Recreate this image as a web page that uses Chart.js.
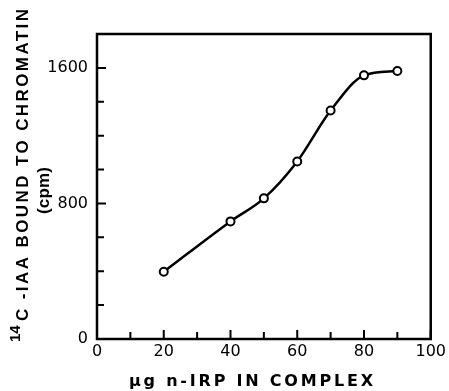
<!DOCTYPE html>
<html>
<head>
<meta charset="utf-8">
<script src="https://cdn.jsdelivr.net/npm/chart.js@4/dist/chart.umd.min.js"></script>
<style>
  html, body { margin: 0; padding: 0; background: #fff; }
  #wrap { width: 449px; height: 391px; }
</style>
</head>
<body>
<div id="wrap"><canvas id="LineChart" width="449" height="391"></canvas></div>
<script>
// values
const amounts = [20, 40, 50, 60, 70, 80, 90];          // µg n-IRP in complex
const bound = [397, 694, 830, 1048, 1348, 1556, 1582]; // cpm bound to chromatin
const xTickLabels = [0, 20, 40, 60, 80, 100];
const xMinorTicks = [10, 30, 50, 70, 90];
const yTickLabels = [0, 800, 1600];
const yMinorTicks = [200, 400, 600, 1000, 1200, 1400];

// draws text along a line of given length, spreading the letters
function spreadText(ctx, text, x, y, rot, font, len, baseline) {
    ctx.save();
    ctx.translate(x, y);
    ctx.rotate(rot);
    ctx.font = font;
    ctx.letterSpacing = '0px';
    const w = ctx.measureText(text).width;
    const n = [...text].length;
    if (len) ctx.letterSpacing = ((len - w) / (n - 1)) + 'px';
    ctx.textAlign = 'left';
    ctx.textBaseline = baseline || 'alphabetic';
    ctx.fillStyle = '#000';
    ctx.fillText(text, 0, 0);
    ctx.restore();
}

const framePlugin = {
    id: 'frame',
    afterDraw(chart) {
        const ctx = chart.ctx;
        const a = chart.chartArea;
        const xs = chart.scales.x, ys = chart.scales.y;
        ctx.save();
        ctx.strokeStyle = '#000';
        ctx.lineWidth = 2.5;
        ctx.strokeRect(a.left, a.top, a.right - a.left, a.bottom - a.top);
        ctx.lineWidth = 2;
        ctx.beginPath();
        xTickLabels.concat(xMinorTicks).forEach(v => {
            const px = xs.getPixelForValue(v);
            const l = xTickLabels.includes(v) ? 9 : 7;
            ctx.moveTo(px, a.bottom);
            ctx.lineTo(px, a.bottom - l);
        });
        yTickLabels.concat(yMinorTicks).forEach(v => {
            const py = ys.getPixelForValue(v);
            const l = yTickLabels.includes(v) ? 9 : 7;
            ctx.moveTo(a.left, py);
            ctx.lineTo(a.left + l, py);
        });
        ctx.stroke();
        ctx.restore();

        // axis titles
        const up = -Math.PI / 2;
        spreadText(ctx, '14', 20, 342, up, 'bold 15px "Liberation Sans"', 0);
        spreadText(ctx, 'C -IAA BOUND TO CHROMATIN', 28, 321, up, 'bold 17px "Liberation Sans"', 312);
        spreadText(ctx, '(cpm)', 44, 214, up, 'bold 17px "Liberation Sans"', 47, 'middle');
        spreadText(ctx, 'μg n-IRP IN COMPLEX', 129, 386, 0, 'bold 16px "DejaVu Sans"', 244);
    }
};

new Chart(document.getElementById('LineChart').getContext('2d'), {
    type: 'line',
    data: {
        datasets: [{
            data: amounts.map((x, i) => ({x: x, y: bound[i]})),
            borderColor: '#000',
            borderWidth: 2.5,
            cubicInterpolationMode: 'monotone',
            pointRadius: 4,
            pointBorderWidth: 2,
            pointBackgroundColor: '#fff',
            pointBorderColor: '#000',
            clip: false
        }]
    },
    options: {
        responsive: false,
        animation: false,
        layout: { padding: { top: 34, right: 14, left: 0, bottom: 0 } },
        plugins: { legend: { display: false }, tooltip: { enabled: false } },
        scales: {
            x: {
                type: 'linear',
                min: 0,
                max: 100,
                afterBuildTicks: s => { s.ticks = xTickLabels.map(v => ({value: v})); },
                afterFit: s => { s.height = 52; },
                grid: { display: false, drawTicks: false },
                border: { display: false },
                ticks: {
                    padding: 3,
                    maxRotation: 0,
                    color: '#000',
                    callback: v => String(v),
                    font: { family: 'DejaVu Sans', size: 16 }
                }
            },
            y: {
                min: 0,
                max: 1800,
                afterBuildTicks: s => { s.ticks = yTickLabels.map(v => ({value: v})); },
                afterFit: s => { s.width = 97; },
                grid: { display: false, drawTicks: false },
                border: { display: false },
                ticks: {
                    padding: 9,
                    color: '#000',
                    callback: v => String(v),
                    font: { family: 'DejaVu Sans', size: 16 }
                }
            }
        }
    },
    plugins: [framePlugin]
});
</script>
</body>
</html>
